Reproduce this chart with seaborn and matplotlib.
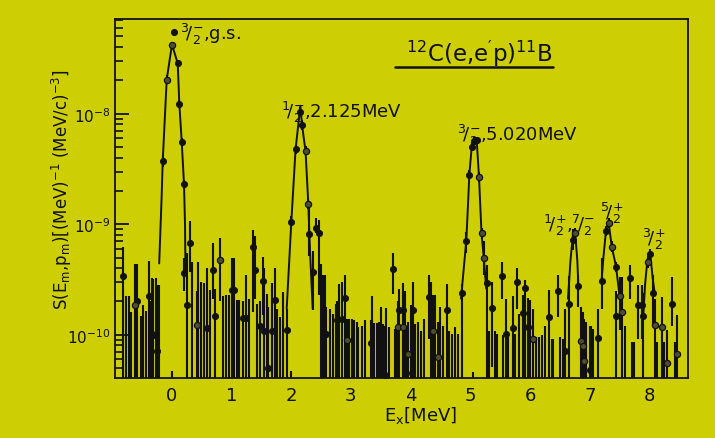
import matplotlib
matplotlib.use("Agg")
import numpy as np
import pandas as pd
import matplotlib.pyplot as plt
from matplotlib.ticker import LogLocator, LogFormatterMathtext, NullFormatter
import seaborn as sns

# Spectral strength values are given in units of 1e-10 (MeV)^-1 (MeV/c)^-3
UNIT = 1e-10
# lower bar end used when an error bar runs off the bottom of the frame
FLOOR = 0.1

# ---- measured points: excitation energy [MeV], strength, error-bar ends, grey print
pt_ex = [-0.806, -0.615, -0.572, -0.371, -0.348, -0.304, -0.237,
         -0.147, -0.080, 0.012, 0.038, 0.104, 0.129, 0.172, 0.209,
         0.214, 0.264, 0.309, 0.431, 0.589, 0.699, 0.732, 0.811, 1.007, 1.045,
         1.191, 1.246, 1.358, 1.396, 1.480, 1.535, 1.552, 1.619, 1.676, 1.731, 1.926,
         2.003, 2.074, 2.149, 2.182, 2.241, 2.288, 2.304, 2.361, 2.416, 2.472,
         2.495, 2.538, 2.584, 2.773, 2.846, 2.901, 2.940,
         3.331, 3.475, 3.570, 3.699, 3.793, 3.809, 3.866, 3.876, 3.960, 4.017,
         4.033, 4.306, 4.334, 4.378, 4.462, 4.602,
         4.863, 4.930, 4.980, 5.020, 5.064, 5.104, 5.142, 5.184, 5.226, 5.270,
         5.364, 5.522, 5.594, 5.706, 5.783, 5.873, 5.911, 5.967, 6.040, 6.313,
         6.468, 6.580, 6.647,
         6.719, 6.739, 6.793, 6.848, 6.886, 6.901, 6.990, 7.137,
         7.204, 7.266, 7.308, 7.366, 7.433, 7.433, 7.495, 7.532, 7.667,
         7.806, 7.863, 7.890, 7.960, 8.002, 8.057, 8.077, 8.194, 8.281, 8.370, 8.445]
pt_s = [3.42, 1.85, 2.01, 2.26, 1.03, 1.00, 0.72,
        37.3, 204, 418, 545, 285, 122, 55.6, 22.9,
        3.64, 1.85, 6.8, 1.23, 1.15, 3.87, 1.47, 4.73, 2.53, 2.53,
        1.43, 1.43, 6.27, 3.87, 1.20, 3.06, 1.09, 0.50, 1.09, 2.08, 1.11,
        10.4, 47.5, 104, 79.4, 46.1, 15.3, 8.1, 3.7, 9.2, 8.28,
        2.62, 1.66, 1.02, 1.35, 1.40, 2.16, 0.89,
        0.85, 0.47, 0.43, 3.92, 1.17, 1.69, 1.69, 1.17, 0.67, 0.45,
        1.69, 2.20, 1.67, 1.07, 0.63, 1.67,
        2.40, 7.10, 28.1, 50.1, 56.5, 57.4, 26.7, 8.28, 4.97, 2.97,
        1.76, 3.38, 1.02, 1.16, 3.00, 1.58, 2.65, 1.17, 0.92, 1.45,
        2.48, 0.72, 1.91,
        7.20, 8.40, 2.76, 0.88, 0.79, 0.58, 0.48, 0.93,
        3.06, 8.70, 10.2, 6.27, 4.12, 1.48, 2.26, 1.61, 3.23,
        1.85, 1.85, 1.48, 4.56, 5.34, 2.41, 1.23, 1.17, 0.56, 1.88, 0.67]
pt_lo = [FLOOR, FLOOR, FLOOR, FLOOR, FLOOR, FLOOR, FLOOR,
         33, 185, 390, 510, 265, 112, 51, 21,
         2.5, FLOOR, 3.7, FLOOR, FLOOR, 2.12, FLOOR, 2.0, FLOOR, FLOOR,
         FLOOR, FLOOR, 1.62, 2.1, FLOOR, 1.5, FLOOR, FLOOR, FLOOR, FLOOR, FLOOR,
         9.2, 43, 95, 72, 42, 13.6, 5.2, 1.68, 8.3, 2.3,
         FLOOR, FLOOR, FLOOR, FLOOR, FLOOR, FLOOR, FLOOR,
         FLOOR, FLOOR, FLOOR, 2.36, FLOOR, FLOOR, FLOOR, FLOOR, FLOOR, FLOOR,
         FLOOR, 0.92, FLOOR, FLOOR, FLOOR, FLOOR,
         FLOOR, 5.5, 25.5, 46, 52, 53, 24, 7.4, 3.5, FLOOR,
         0.51, 2.12, FLOOR, FLOOR, 1.72, FLOOR, FLOOR, FLOOR, FLOOR, FLOOR,
         1.46, FLOOR, FLOOR,
         5.8, 7.6, 1.8, FLOOR, FLOOR, FLOOR, FLOOR, FLOOR,
         1.72, 7.8, 9.2, 5.6, 3.7, FLOOR, 1.1, FLOOR, 2.12,
         0.92, 0.92, FLOOR, 4.0, 4.8, 1.2, FLOOR, FLOOR, FLOOR, 1.21, FLOOR]
pt_hi = [6.27, 4.36, 4.36, 4.64, 2.0, 3.2, 2.8,
         42, 225, 450, 585, 305, 133, 60, 25,
         5.0, 5.45, 10.7, 2.5, 4.0, 6.7, 2.6, 7.46, 4.9, 4.9,
         2.0, 3.44, 8.9, 7.8, 2.0, 5.1, 4.0, 1.8, 2.0, 3.98, 1.72,
         11.8, 52, 114, 87, 51, 17.2, 14.0, 5.7, 11.3, 11.0,
         4.4, 3.46, 1.8, 2.0, 3.0, 3.5, 1.4,
         1.35, 1.3, 1.2, 5.45, 2.0, 2.6, 2.97, 2.4, 1.3, 1.2,
         3.0, 3.5, 3.0, 2.3, 1.3, 2.9,
         2.9, 8.5, 31, 55, 61, 62, 29.5, 9.2, 7.0, 4.3,
         3.0, 4.58, 2.12, 2.25, 4.0, 2.28, 3.1, 2.16, 1.7, 2.53,
         3.5, 1.72, 3.37,
         9.0, 9.3, 3.5, 1.8, 1.6, 1.4, 1.2, 1.72,
         5.0, 9.7, 11.3, 7.0, 4.6, 2.5, 3.3, 3.3, 4.3,
         2.8, 2.8, 2.4, 5.2, 6.0, 3.5, 2.1, 2.2, 1.1, 3.3, 1.5]
pt_grey = [0, 1, 0, 0, 0, 0, 0,
           0, 1, 1, 0, 0, 0, 0, 0,
           0, 0, 0, 1, 0, 0, 0, 1, 0, 0,
           0, 0, 0, 0, 0, 0, 0, 0, 0, 0, 0,
           0, 0, 0, 0, 1, 1, 0, 0, 0, 0,
           0, 0, 0, 0, 0, 0, 1,
           0, 0, 0, 0, 1, 0, 0, 1, 1, 0,
           0, 0, 0, 1, 1, 0,
           0, 0, 0, 0, 0, 0, 1, 1, 1, 0,
           0, 0, 0, 0, 0, 0, 0, 0, 1, 0,
           0, 0, 0,
           0, 1, 0, 1, 1, 1, 0, 0,
           0, 0, 1, 1, 0, 0, 1, 1, 0,
           0, 0, 0, 1, 0, 0, 1, 1, 1, 0, 1]

# ---- bins whose central value lies below the frame: energy and upper bar end
bar_ex = [-0.761, -0.711, -0.672, -0.515, -0.472, -0.431, -0.321, -0.264, -0.209, 0.003,
          0.348, 0.448, 0.493, 0.543, 0.644, 0.856, 0.911, 0.957, 1.090, 1.134,
          1.291, 1.435, 1.592, 1.686, 1.769, 1.814, 1.870, 1.998, 2.565, 2.651,
          2.706, 2.751, 2.806, 2.973, 3.013, 3.052, 3.097, 3.124, 3.181, 3.236,
          3.348, 3.386, 3.431, 3.498, 3.542, 3.587, 3.642, 3.737, 3.776, 3.905,
          3.943, 4.000, 4.072, 4.127, 4.167, 4.222, 4.406, 4.490, 4.535, 4.645,
          4.691, 4.741, 4.786, 5.037, 5.314, 5.410, 5.448, 5.538, 5.632, 5.744,
          5.816, 5.995, 6.095, 6.150, 6.190, 6.246, 6.358, 6.385, 6.497, 6.542,
          6.931, 7.010, 7.054, 7.585, 7.697, 7.736, 8.124, 8.241, 8.420]
bar_hi = [2.23, 2.23, 1.62, 1.49, 1.84, 1.65, 3.23, 3.23, 2.8, 0.47,
          4.58, 4.58, 3.03, 2.91, 2.53, 2.22, 2.28, 2.28, 2.05, 2.05,
          2.12, 1.91, 2.36, 2.91, 1.72, 1.45, 2.44, 0.47, 3.46, 1.72,
          1.55, 1.91, 2.85, 1.40, 1.40, 1.35, 1.31, 1.18, 1.21, 1.35,
          2.25, 1.29, 1.29, 1.79, 1.26, 1.75, 1.17, 1.13, 1.13, 2.47,
          1.13, 1.87, 1.26, 1.30, 1.07, 1.40, 2.28, 1.79, 1.21, 1.07,
          1.02, 1.17, 1.02, 0.46, 1.09, 1.09, 1.02, 0.99, 0.96, 1.02,
          1.55, 2.05, 0.95, 0.95, 0.99, 1.21, 0.92, 0.92, 0.95, 0.92,
          1.30, 1.21, 1.13, 1.21, 0.86, 0.86, 0.86, 0.86, 0.86]

# ---- fitted line shapes of the resolved states
fit_gs_ex = [-0.206, -0.166, -0.147, -0.080, 0.008, 0.104, 0.130, 0.171, 0.209, 0.226, 0.234]
fit_gs_s = [4.42, 17.2, 37.4, 204, 424, 285, 125, 55.6, 23.1, 9.8, 3.59]
fit_2125_ex = [1.926, 2.003, 2.074, 2.154, 2.182, 2.241, 2.288, 2.316, 2.361]
fit_2125_s = [1.72, 10.4, 47.1, 118, 79.4, 46.1, 15.2, 5.68, 1.72]
fit_5020_ex = [4.841, 4.930, 4.963, 4.980, 5.020, 5.064, 5.104, 5.142, 5.184, 5.226, 5.262]
fit_5020_s = [2.12, 7.15, 17.2, 27.9, 50.1, 60.5, 56.8, 26.8, 8.28, 4.71, 2.62]
fit_672_ex = [6.630, 6.672, 6.719, 6.747, 6.786, 6.806]
fit_672_s = [2.12, 4.71, 8.8, 8.8, 4.71, 2.62]
fit_729_ex = [7.191, 7.221, 7.266, 7.308, 7.361, 7.433, 7.492]
fit_729_s = [3.03, 4.91, 8.8, 10.6, 6.31, 4.15, 2.26]
fit_798_ex = [7.890, 7.918, 7.957, 8.002, 8.047, 8.085]
fit_798_s = [1.49, 2.79, 4.71, 5.68, 3.23, 2.26]

x_ticks = [0, 1, 2, 3, 4, 5, 6, 7, 8]

PAPER = "#cdcf04"
INK = "#111111"
FACE = ["Liberation Sans Narrow", "DejaVu Sans"]

sns.set_theme(style="ticks")
plt.rcParams["font.family"] = FACE
plt.rcParams["mathtext.fontset"] = "custom"
plt.rcParams["mathtext.rm"] = "Liberation Sans Narrow"
plt.rcParams["mathtext.it"] = "Liberation Sans Narrow"
plt.rcParams["mathtext.bf"] = "Liberation Sans Narrow:bold"
plt.rcParams["mathtext.sf"] = "Liberation Sans Narrow"
plt.rcParams["mathtext.default"] = "rm"

fig = plt.figure(figsize=(7.15, 4.39), dpi=100, facecolor=PAPER)
ax = fig.add_axes([115 / 715, 1 - 379 / 439, 573 / 715, 359 / 439])
ax.set_facecolor(PAPER)

pts = pd.DataFrame({"ex": pt_ex, "s": np.array(pt_s) * UNIT,
                    "lo": np.array(pt_lo) * UNIT, "hi": np.array(pt_hi) * UNIT,
                    "grey": pt_grey})
bars = pd.DataFrame({"ex": bar_ex, "hi": np.array(bar_hi) * UNIT})

# error bars of bins sitting below the frame
ax.vlines(bars["ex"], FLOOR * UNIT, bars["hi"], color=INK, lw=1.5, zorder=2)
# error bars of the plotted points
ax.vlines(pts["ex"], pts["lo"], pts["hi"], color=INK, lw=1.5, zorder=2)

# fitted peak shapes
for fx, fs in [(fit_gs_ex, fit_gs_s), (fit_2125_ex, fit_2125_s),
               (fit_5020_ex, fit_5020_s), (fit_672_ex, fit_672_s),
               (fit_729_ex, fit_729_s), (fit_798_ex, fit_798_s)]:
    sns.lineplot(x=fx, y=np.array(fs) * UNIT, ax=ax, sort=False, estimator=None,
                 color=INK, lw=1.4, zorder=3)

# data points
black = pts[pts["grey"] == 0]
grey = pts[pts["grey"] == 1]
sns.scatterplot(data=black, x="ex", y="s", ax=ax, s=20, color=INK,
                edgecolor=INK, linewidth=0.6, zorder=4)
sns.scatterplot(data=grey, x="ex", y="s", ax=ax, s=20, color="#4e4e30",
                edgecolor=INK, linewidth=0.9, zorder=4)

ax.set_yscale("log")
ax.set_xlim(-0.945, 8.637)
ax.set_ylim(0.406e-10, 7.2e-8)
ax.set_xlabel("")
ax.set_ylabel("")

ax.set_xticks(x_ticks)
ax.set_xticklabels([str(t) for t in x_ticks])
ax.tick_params(axis="x", length=0, pad=6, labelsize=13, colors=INK)
ax.yaxis.set_major_locator(LogLocator(base=10, numticks=10))
ax.yaxis.set_major_formatter(LogFormatterMathtext())
ax.yaxis.set_minor_locator(LogLocator(base=10, subs=np.arange(2, 10), numticks=20))
ax.yaxis.set_minor_formatter(NullFormatter())
ax.tick_params(axis="y", which="major", direction="in", length=10, width=1.3,
               pad=3, labelsize=11, colors=INK)
ax.tick_params(axis="y", which="minor", direction="in", length=5.5, width=1.2,
               colors=INK)
for sp in ax.spines.values():
    sp.set_visible(True)
    sp.set_color(INK)
    sp.set_linewidth(1.3)

# state labels
lab = dict(color=INK, fontsize=13, ha="left", va="baseline", zorder=5)
ax.text(0.142, 4.71e-8, r"${}^{3}\!/_{2}^{-}$,g.s.", **lab)
ax.text(1.831, 9.39e-9, r"${}^{1}\!/_{2}^{-}$,2.125MeV", **lab)
ax.text(4.774, 5.84e-9, r"${}^{3}\!/_{2}^{-}$,5.020MeV", **lab)
ax.text(6.212, 8.82e-10, r"${}^{1}\!/_{2}^{+}$,${}^{7}\!/_{2}^{-}$", **lab)
ax.text(7.166, 1.13e-9, r"${}^{5}\!/_{2}^{+}$", **lab)
ax.text(7.868, 6.58e-10, r"${}^{3}\!/_{2}^{+}$", **lab)

# reaction title with underline
ax.text(0.636, 0.883, r"$^{12}$C(e,e$^{\prime}$p)$^{11}$B", transform=ax.transAxes,
        ha="center", va="baseline", fontsize=16.5, color=INK)
ax.plot([0.489, 0.764], [0.865, 0.865], transform=ax.transAxes, color=INK, lw=1.8)

fig.text(62 / 715, 1 - 190 / 439,
         r"S(E$_m$,p$_m$)[(MeV)$^{-1}$ (MeV/c)$^{-3}$]",
         rotation=90, ha="center", va="center", fontsize=12, color=INK)
fig.text(420 / 715, 1 - 416 / 439, r"E$_x$[MeV]", ha="center", va="center",
         fontsize=13, color=INK)

fig.savefig("out.png", dpi=100, facecolor=PAPER)
